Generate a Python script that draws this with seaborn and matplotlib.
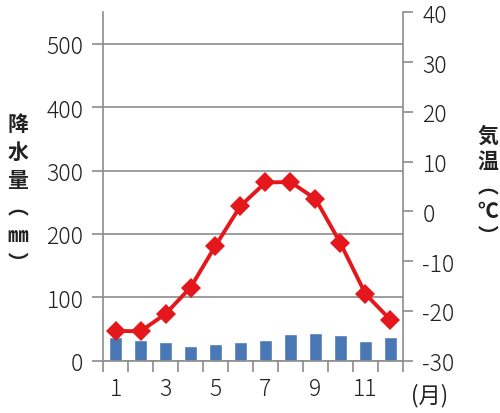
import numpy as np
import pandas as pd
import matplotlib
matplotlib.use("Agg")
import matplotlib.pyplot as plt
import seaborn as sns

# monthly climate data
months = [1, 2, 3, 4, 5, 6, 7, 8, 9, 10, 11, 12]
precip = [37, 33, 29, 23, 26, 30, 33, 42, 43, 40, 31, 37]
temp = [-24.0, -24.1, -20.6, -15.3, -6.9, 1.1, 5.8, 5.9, 2.5, -6.4, -16.6, -21.8]
month_labels = ["1", "3", "5", "7", "9", "11"]
precip_ticks = [0, 100, 200, 300, 400, 500]
temp_ticks = [-30, -20, -10, 0, 10, 20, 30, 40]

sns.set_style("white")
plt.rcParams['font.family'] = ['Noto Sans CJK JP', 'DejaVu Sans']
plt.rcParams['axes.unicode_minus'] = False

df = pd.DataFrame({'month': months, 'precip': precip, 'temp': temp})

fig = plt.figure(figsize=(5.0, 4.14), dpi=100)
ax = fig.add_axes([0.206, 0.1263, 0.6, 0.8417])

grid_col = '#8c8c8c'
text_col = '#222222'
tick_font = dict(family=['Noto Sans CJK JP', 'DejaVu Sans'], weight='light', size=16.5)

# precipitation bars
sns.barplot(data=df, x='month', y='precip', native_scale=True, width=0.5,
            color='#4a78b4', saturation=1, ax=ax, zorder=2)
ax.set_xlim(0.5, 12.5)
ax.set_ylim(0, 550)
ax.set_yticks(precip_ticks)
ax.yaxis.grid(True, color=grid_col, linewidth=1.2, zorder=0)
ax.set_axisbelow(True)
ax.tick_params(axis='y', direction='out', length=8, width=1.2, color=grid_col,
               labelcolor=text_col, pad=6, left=True)
for t in ax.get_yticklabels():
    t.set_fontproperties(tick_font)

# x axis: ticks on boundaries, labels on odd months
ax.set_xticks(np.arange(0.5, 13, 1.0), minor=True)
ax.set_xticks([m for m in months if m % 2 == 1])
ax.set_xticklabels(month_labels, fontdict=tick_font)
ax.tick_params(axis='x', which='minor', direction='out', length=8, width=1.2, color=grid_col, bottom=True)
ax.tick_params(axis='x', which='major', length=0, labelcolor=text_col, pad=11)
ax.set_xlabel('')
ax.set_ylabel('')

for side in ['top', 'right']:
    ax.spines[side].set_visible(False)
for side in ['left', 'bottom']:
    ax.spines[side].set_color(grid_col)
    ax.spines[side].set_linewidth(1.2)

# temperature line
ax2 = ax.twinx()
sns.lineplot(data=df, x='month', y='temp', ax=ax2, color='#e3171c', linewidth=2.8,
             marker='D', markersize=10, markeredgewidth=0)
ax2.set_ylim(-30, 40)
ax2.set_yticks(temp_ticks)
ax2.set_xlim(0.5, 12.5)
ax2.set_ylabel('')
ax2.set_xlabel('')
ax2.tick_params(axis='y', direction='out', length=7, width=1.2, color=grid_col,
                labelcolor=text_col, pad=7, right=True)
for t in ax2.get_yticklabels():
    t.set_fontproperties(tick_font)
for side in ['top', 'left', 'bottom']:
    ax2.spines[side].set_visible(False)
ax2.spines['right'].set_color(grid_col)
ax2.spines['right'].set_linewidth(1.2)

# vertical axis titles
fig.text(0.036, 0.531, "\n".join("降水量︵㎜︶"), ha='center', va='center',
         fontsize=15, fontweight='bold', color=text_col, linespacing=1.4)
fig.text(0.976, 0.55, "\n".join("気温︵℃︶"), ha='center', va='center',
         fontsize=15, fontweight='bold', color=text_col, linespacing=1.25)
fig.text(0.822, 0.045, "(月)", ha='left', va='center', fontsize=16, color=text_col)

fig.savefig('out.png', dpi=100)
